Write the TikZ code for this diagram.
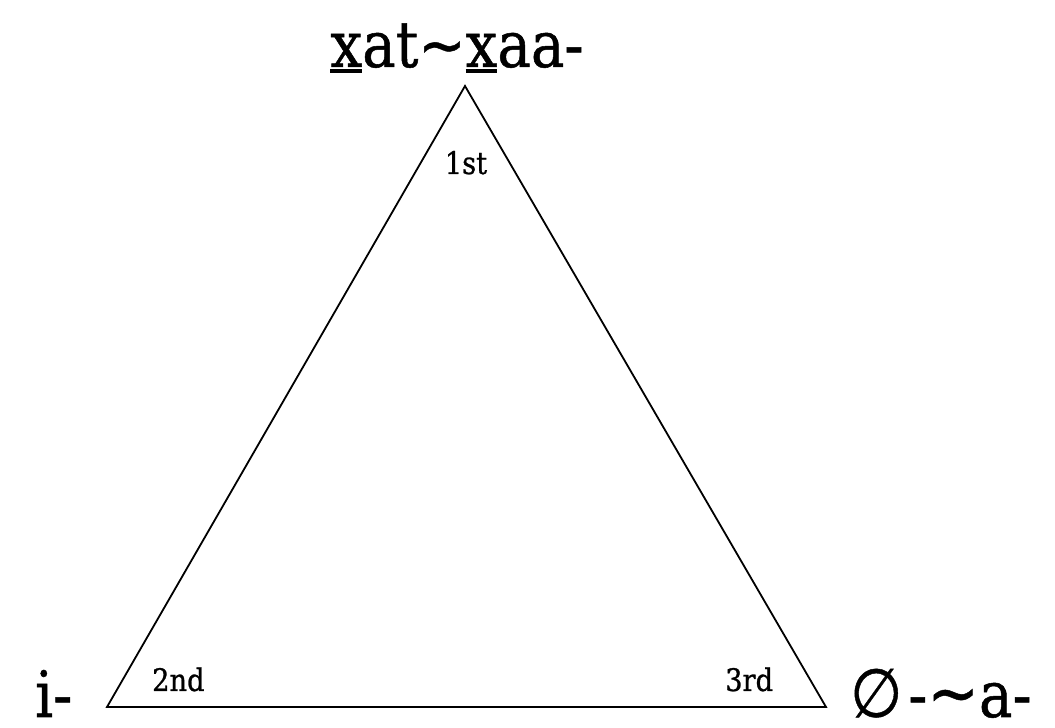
\documentclass[tikz,border=0pt]{standalone}
\usepackage{fontspec}
\setmainfont{DejaVu Serif}[FakeStretch=0.88,FakeBold=0.8]
\newfontfamily\symfont{DejaVu Sans}[FakeStretch=0.88,FakeBold=0.6]
\newcommand\ulchar[1]{\setbox0\hbox{#1}\rlap{\rule[-6pt]{\wd0}{4pt}}#1}
\begin{document}
\begin{tikzpicture}[x=1pt,y=1pt,
  biglabel/.style={inner sep=0pt,font=\fontsize{64}{70}\selectfont},
  smalllabel/.style={inner sep=0pt,font=\fontsize{31}{34}\selectfont},
  edge/.style={line width=1.8pt,line join=miter}]
\useasboundingbox (0,0) rectangle (1055,728);
\coordinate (top) at (465,642);
\coordinate (bl) at (107,21);
\coordinate (br) at (826,21);
\draw[edge] (top) -- (bl) -- (br) -- cycle;
\node[biglabel,anchor=base] (first) at (457,661) {\ulchar{x}at{\symfont ∼}\ulchar{x}aa-};
\node[biglabel,anchor=base west] (second) at (35,11) {i-};
\node[biglabel,anchor=base west] (third) at (850,11) {{\symfont\fontsize{68}{70}\selectfont ∅}\hspace{6pt}-{\symfont\fontsize{70}{70}\selectfont ∼}a-};
\node[smalllabel,anchor=base] (n1) at (466,554) {1st};
\node[smalllabel,anchor=base west] (n2) at (152,37) {2nd};
\node[smalllabel,anchor=base west] (n3) at (725,37) {3rd};
\end{tikzpicture}
\end{document}
